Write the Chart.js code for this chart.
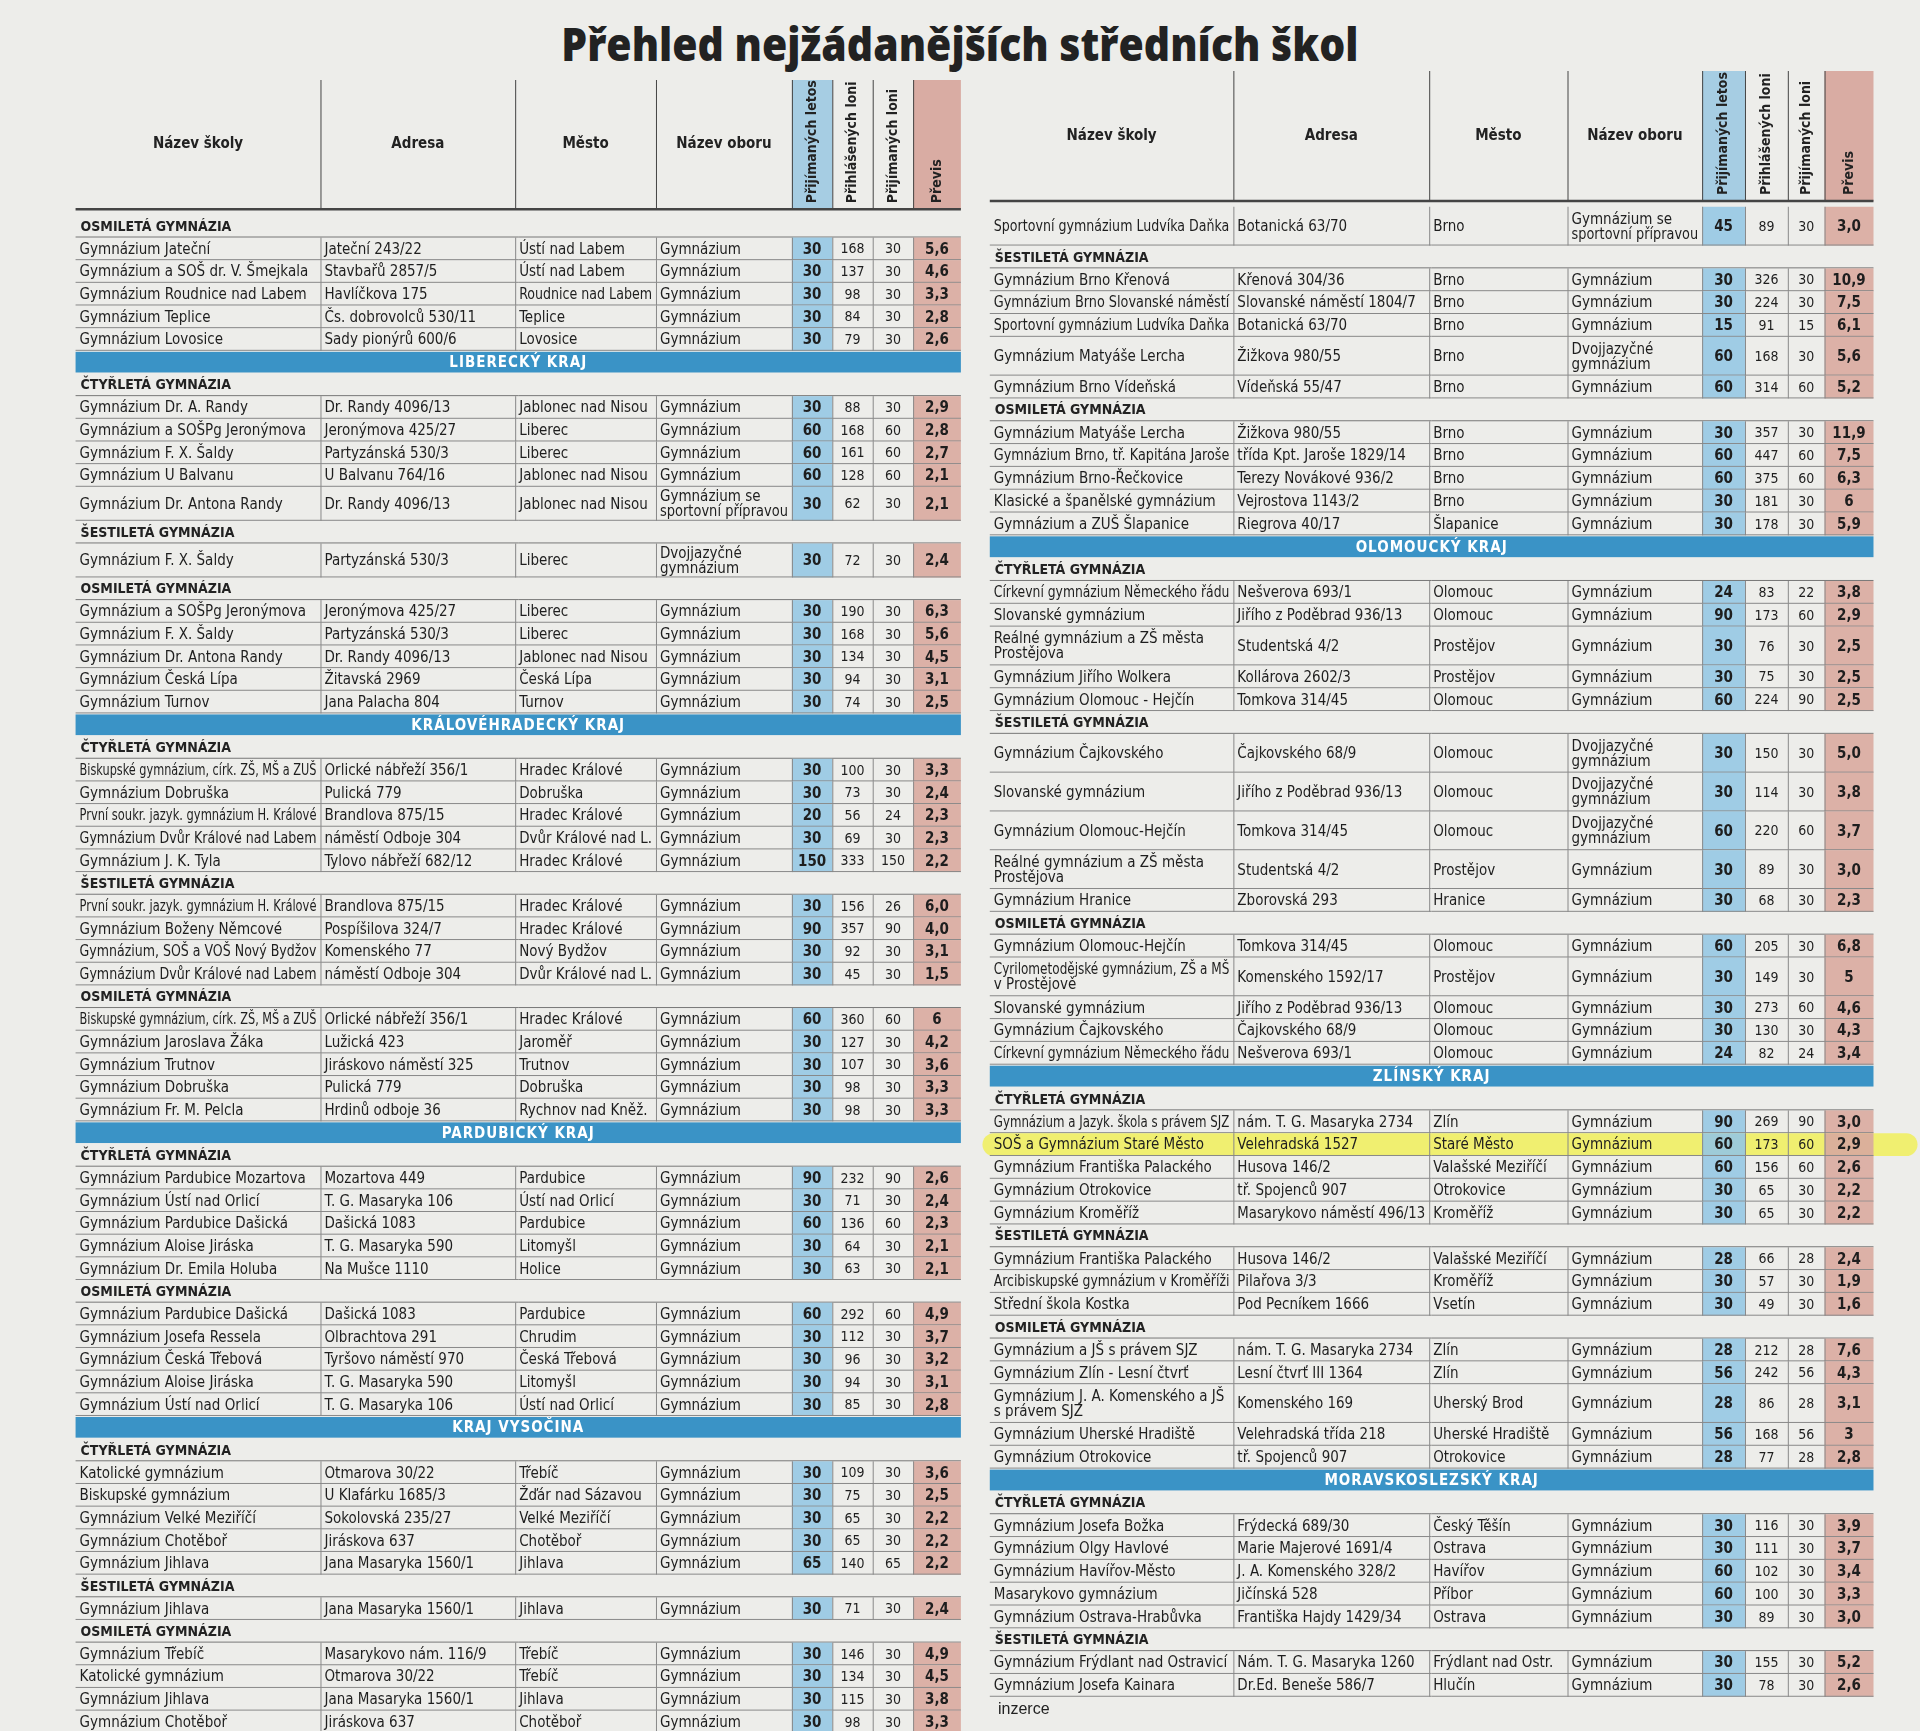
<!DOCTYPE html>
<html><head><meta charset="utf-8">
<script src="https://cdn.jsdelivr.net/npm/chart.js@4"></script>
<style>
body{margin:0;width:1920px;height:1731px;background:#ededea;overflow:hidden;position:relative;font-family:"Liberation Sans Narrow","DejaVu Sans Condensed",sans-serif}
#title{position:absolute;top:12px;left:0;width:1920px;text-align:center;font:800 46px "Open Sans",sans-serif;color:#222;white-space:nowrap}
#title span{display:inline-block;transform-origin:center;transform:scaleX(0.89)}
canvas{position:absolute}
#inz{position:absolute;left:998px;top:1700px;font:16px "Liberation Sans Narrow",sans-serif;color:#222}
</style></head><body>
<div id="title"><span>Přehled nejžádanějších středních škol</span></div>
<canvas id="cl" width="900" height="1651" style="left:67px;top:80px"></canvas>
<canvas id="cr" width="940" height="1660" style="left:980px;top:71px"></canvas>
<div id="inz">inzerce</div>
<script>
// ---- column headers ----
const columnHeaders = ["Název školy","Adresa","Město","Název oboru","Přijímaných letos","Přihlášených loni","Přijímaných loni","Převis"];

// ---- LEFT table: type k = region banner, h = section, d = school ----
const leftType = "hddddd"+"kh"+"ddddd"+"hd"+"hddddd"+"kh"+"ddddd"+"hdddd"+"hddddd"+"kh"+"ddddd"+"hddddd"+"kh"+"ddddd"+"hd"+"hddddd";
const leftNames = ["OSMILETÁ GYMNÁZIA","Gymnázium Jateční","Gymnázium a SOŠ dr. V. Šmejkala","Gymnázium Roudnice nad Labem","Gymnázium Teplice","Gymnázium Lovosice",
"LIBERECKÝ KRAJ","ČTYŘLETÁ GYMNÁZIA","Gymnázium Dr. A. Randy","Gymnázium a SOŠPg Jeronýmova","Gymnázium F. X. Šaldy","Gymnázium U Balvanu","Gymnázium Dr. Antona Randy",
"ŠESTILETÁ GYMNÁZIA","Gymnázium F. X. Šaldy",
"OSMILETÁ GYMNÁZIA","Gymnázium a SOŠPg Jeronýmova","Gymnázium F. X. Šaldy","Gymnázium Dr. Antona Randy","Gymnázium Česká Lípa","Gymnázium Turnov",
"KRÁLOVÉHRADECKÝ KRAJ","ČTYŘLETÁ GYMNÁZIA","Biskupské gymnázium, círk. ZŠ, MŠ a ZUŠ","Gymnázium Dobruška","První soukr. jazyk. gymnázium H. Králové","Gymnázium Dvůr Králové nad Labem","Gymnázium J. K. Tyla",
"ŠESTILETÁ GYMNÁZIA","První soukr. jazyk. gymnázium H. Králové","Gymnázium Boženy Němcové","Gymnázium, SOŠ a VOŠ Nový Bydžov","Gymnázium Dvůr Králové nad Labem",
"OSMILETÁ GYMNÁZIA","Biskupské gymnázium, círk. ZŠ, MŠ a ZUŠ","Gymnázium Jaroslava Žáka","Gymnázium Trutnov","Gymnázium Dobruška","Gymnázium Fr. M. Pelcla",
"PARDUBICKÝ KRAJ","ČTYŘLETÁ GYMNÁZIA","Gymnázium Pardubice Mozartova","Gymnázium Ústí nad Orlicí","Gymnázium Pardubice Dašická","Gymnázium Aloise Jiráska","Gymnázium Dr. Emila Holuba",
"OSMILETÁ GYMNÁZIA","Gymnázium Pardubice Dašická","Gymnázium Josefa Ressela","Gymnázium Česká Třebová","Gymnázium Aloise Jiráska","Gymnázium Ústí nad Orlicí",
"KRAJ VYSOČINA","ČTYŘLETÁ GYMNÁZIA","Katolické gymnázium","Biskupské gymnázium","Gymnázium Velké Meziříčí","Gymnázium Chotěboř","Gymnázium Jihlava",
"ŠESTILETÁ GYMNÁZIA","Gymnázium Jihlava",
"OSMILETÁ GYMNÁZIA","Gymnázium Třebíč","Katolické gymnázium","Gymnázium Jihlava","Gymnázium Chotěboř","Gymnázium Žďár nad Sázavou"];
const leftAddress = ["","Jateční 243/22","Stavbařů 2857/5","Havlíčkova 175","Čs. dobrovolců 530/11","Sady pionýrů 600/6",
"","","Dr. Randy 4096/13","Jeronýmova 425/27","Partyzánská 530/3","U Balvanu 764/16","Dr. Randy 4096/13",
"","Partyzánská 530/3",
"","Jeronýmova 425/27","Partyzánská 530/3","Dr. Randy 4096/13","Žitavská 2969","Jana Palacha 804",
"","","Orlické nábřeží 356/1","Pulická 779","Brandlova 875/15","náměstí Odboje 304","Tylovo nábřeží 682/12",
"","Brandlova 875/15","Pospíšilova 324/7","Komenského 77","náměstí Odboje 304",
"","Orlické nábřeží 356/1","Lužická 423","Jiráskovo náměstí 325","Pulická 779","Hrdinů odboje 36",
"","","Mozartova 449","T. G. Masaryka 106","Dašická 1083","T. G. Masaryka 590","Na Mušce 1110",
"","Dašická 1083","Olbrachtova 291","Tyršovo náměstí 970","T. G. Masaryka 590","T. G. Masaryka 106",
"","","Otmarova 30/22","U Klafárku 1685/3","Sokolovská 235/27","Jiráskova 637","Jana Masaryka 1560/1",
"","Jana Masaryka 1560/1",
"","Masarykovo nám. 116/9","Otmarova 30/22","Jana Masaryka 1560/1","Jiráskova 637","Neumannova 1693/2"];
const leftCity = ["","Ústí nad Labem","Ústí nad Labem","Roudnice nad Labem","Teplice","Lovosice",
"","","Jablonec nad Nisou","Liberec","Liberec","Jablonec nad Nisou","Jablonec nad Nisou",
"","Liberec",
"","Liberec","Liberec","Jablonec nad Nisou","Česká Lípa","Turnov",
"","","Hradec Králové","Dobruška","Hradec Králové","Dvůr Králové nad L.","Hradec Králové",
"","Hradec Králové","Hradec Králové","Nový Bydžov","Dvůr Králové nad L.",
"","Hradec Králové","Jaroměř","Trutnov","Dobruška","Rychnov nad Kněž.",
"","","Pardubice","Ústí nad Orlicí","Pardubice","Litomyšl","Holice",
"","Pardubice","Chrudim","Česká Třebová","Litomyšl","Ústí nad Orlicí",
"","","Třebíč","Žďár nad Sázavou","Velké Meziříčí","Chotěboř","Jihlava",
"","Jihlava",
"","Třebíč","Třebíč","Jihlava","Chotěboř","Žďár nad Sázavou"];
const leftField = ["","Gymnázium","Gymnázium","Gymnázium","Gymnázium","Gymnázium",
"","","Gymnázium","Gymnázium","Gymnázium","Gymnázium","Gymnázium se\nsportovní přípravou",
"","Dvojjazyčné\ngymnázium",
"","Gymnázium","Gymnázium","Gymnázium","Gymnázium","Gymnázium",
"","","Gymnázium","Gymnázium","Gymnázium","Gymnázium","Gymnázium",
"","Gymnázium","Gymnázium","Gymnázium","Gymnázium",
"","Gymnázium","Gymnázium","Gymnázium","Gymnázium","Gymnázium",
"","","Gymnázium","Gymnázium","Gymnázium","Gymnázium","Gymnázium",
"","Gymnázium","Gymnázium","Gymnázium","Gymnázium","Gymnázium",
"","","Gymnázium","Gymnázium","Gymnázium","Gymnázium","Gymnázium",
"","Gymnázium",
"","Gymnázium","Gymnázium","Gymnázium","Gymnázium","Gymnázium"];
const leftAdmitted = [null,30,30,30,30,30, null,null,30,60,60,60,30, null,30, null,30,30,30,30,30,
null,null,30,30,20,30,150, null,30,90,30,30, null,60,30,30,30,30,
null,null,90,30,60,30,30, null,60,30,30,30,30,
null,null,30,30,30,30,65, null,30, null,30,30,30,30,30];
const leftApplied = [null,168,137,98,84,79, null,null,88,168,161,128,62, null,72, null,190,168,134,94,74,
null,null,100,73,56,69,333, null,156,357,92,45, null,360,127,107,98,98,
null,null,232,71,136,64,63, null,292,112,96,94,85,
null,null,109,75,65,65,140, null,71, null,146,134,115,98,92];
const leftAdmittedLast = [null,30,30,30,30,30, null,null,30,60,60,60,30, null,30, null,30,30,30,30,30,
null,null,30,30,24,30,150, null,26,90,30,30, null,60,30,30,30,30,
null,null,90,30,60,30,30, null,60,30,30,30,30,
null,null,30,30,30,30,65, null,30, null,30,30,30,30,30];
const leftRatio = ["","5,6","4,6","3,3","2,8","2,6", "","","2,9","2,8","2,7","2,1","2,1", "","2,4", "","6,3","5,6","4,5","3,1","2,5",
"","","3,3","2,4","2,3","2,3","2,2", "","6,0","4,0","3,1","1,5", "","6","4,2","3,6","3,3","3,3",
"","","2,6","2,4","2,3","2,1","2,1", "","4,9","3,7","3,2","3,1","2,8",
"","","3,6","2,5","2,2","2,2","2,2", "","2,4", "","4,9","4,5","3,8","3,3","3,1"];

// ---- RIGHT table ----
const rightType = "d"+"hddddd"+"hddddd"+"kh"+"ddddd"+"hddddd"+"hddddd"+"kh"+"ddddd"+"hddd"+"hddddd"+"kh"+"ddddd"+"hdd";
const rightNames = ["Sportovní gymnázium Ludvíka Daňka",
"ŠESTILETÁ GYMNÁZIA","Gymnázium Brno Křenová","Gymnázium Brno Slovanské náměstí","Sportovní gymnázium Ludvíka Daňka","Gymnázium Matyáše Lercha","Gymnázium Brno Vídeňská",
"OSMILETÁ GYMNÁZIA","Gymnázium Matyáše Lercha","Gymnázium Brno, tř. Kapitána Jaroše","Gymnázium Brno-Řečkovice","Klasické a španělské gymnázium","Gymnázium a ZUŠ Šlapanice",
"OLOMOUCKÝ KRAJ","ČTYŘLETÁ GYMNÁZIA","Církevní gymnázium Německého řádu","Slovanské gymnázium","Reálné gymnázium a ZŠ města\nProstějova","Gymnázium Jiřího Wolkera","Gymnázium Olomouc - Hejčín",
"ŠESTILETÁ GYMNÁZIA","Gymnázium Čajkovského","Slovanské gymnázium","Gymnázium Olomouc-Hejčín","Reálné gymnázium a ZŠ města\nProstějova","Gymnázium Hranice",
"OSMILETÁ GYMNÁZIA","Gymnázium Olomouc-Hejčín","Cyrilometodějské gymnázium, ZŠ a MŠ\nv Prostějově","Slovanské gymnázium","Gymnázium Čajkovského","Církevní gymnázium Německého řádu",
"ZLÍNSKÝ KRAJ","ČTYŘLETÁ GYMNÁZIA","Gymnázium a Jazyk. škola s právem SJZ","SOŠ a Gymnázium Staré Město","Gymnázium Františka Palackého","Gymnázium Otrokovice","Gymnázium Kroměříž",
"ŠESTILETÁ GYMNÁZIA","Gymnázium Františka Palackého","Arcibiskupské gymnázium v Kroměříži","Střední škola Kostka",
"OSMILETÁ GYMNÁZIA","Gymnázium a JŠ s právem SJZ","Gymnázium Zlín - Lesní čtvrť","Gymnázium J. A. Komenského a JŠ\ns právem SJZ","Gymnázium Uherské Hradiště","Gymnázium Otrokovice",
"MORAVSKOSLEZSKÝ KRAJ","ČTYŘLETÁ GYMNÁZIA","Gymnázium Josefa Božka","Gymnázium Olgy Havlové","Gymnázium Havířov-Město","Masarykovo gymnázium","Gymnázium Ostrava-Hrabůvka",
"ŠESTILETÁ GYMNÁZIA","Gymnázium Frýdlant nad Ostravicí","Gymnázium Josefa Kainara"];
const rightAddress = ["Botanická 63/70",
"","Křenová 304/36","Slovanské náměstí 1804/7","Botanická 63/70","Žižkova 980/55","Vídeňská 55/47",
"","Žižkova 980/55","třída Kpt. Jaroše 1829/14","Terezy Novákové 936/2","Vejrostova 1143/2","Riegrova 40/17",
"","","Nešverova 693/1","Jiřího z Poděbrad 936/13","Studentská 4/2","Kollárova 2602/3","Tomkova 314/45",
"","Čajkovského 68/9","Jiřího z Poděbrad 936/13","Tomkova 314/45","Studentská 4/2","Zborovská 293",
"","Tomkova 314/45","Komenského 1592/17","Jiřího z Poděbrad 936/13","Čajkovského 68/9","Nešverova 693/1",
"","","nám. T. G. Masaryka 2734","Velehradská 1527","Husova 146/2","tř. Spojenců 907","Masarykovo náměstí 496/13",
"","Husova 146/2","Pilařova 3/3","Pod Pecníkem 1666",
"","nám. T. G. Masaryka 2734","Lesní čtvrť III 1364","Komenského 169","Velehradská třída 218","tř. Spojenců 907",
"","","Frýdecká 689/30","Marie Majerové 1691/4","J. A. Komenského 328/2","Jičínská 528","Františka Hajdy 1429/34",
"","Nám. T. G. Masaryka 1260","Dr.Ed. Beneše 586/7"];
const rightCity = ["Brno",
"","Brno","Brno","Brno","Brno","Brno",
"","Brno","Brno","Brno","Brno","Šlapanice",
"","","Olomouc","Olomouc","Prostějov","Prostějov","Olomouc",
"","Olomouc","Olomouc","Olomouc","Prostějov","Hranice",
"","Olomouc","Prostějov","Olomouc","Olomouc","Olomouc",
"","","Zlín","Staré Město","Valašské Meziříčí","Otrokovice","Kroměříž",
"","Valašské Meziříčí","Kroměříž","Vsetín",
"","Zlín","Zlín","Uherský Brod","Uherské Hradiště","Otrokovice",
"","","Český Těšín","Ostrava","Havířov","Příbor","Ostrava",
"","Frýdlant nad Ostr.","Hlučín"];
const rightField = ["Gymnázium se\nsportovní přípravou",
"","Gymnázium","Gymnázium","Gymnázium","Dvojjazyčné\ngymnázium","Gymnázium",
"","Gymnázium","Gymnázium","Gymnázium","Gymnázium","Gymnázium",
"","","Gymnázium","Gymnázium","Gymnázium","Gymnázium","Gymnázium",
"","Dvojjazyčné\ngymnázium","Dvojjazyčné\ngymnázium","Dvojjazyčné\ngymnázium","Gymnázium","Gymnázium",
"","Gymnázium","Gymnázium","Gymnázium","Gymnázium","Gymnázium",
"","","Gymnázium","Gymnázium","Gymnázium","Gymnázium","Gymnázium",
"","Gymnázium","Gymnázium","Gymnázium",
"","Gymnázium","Gymnázium","Gymnázium","Gymnázium","Gymnázium",
"","","Gymnázium","Gymnázium","Gymnázium","Gymnázium","Gymnázium",
"","Gymnázium","Gymnázium"];
const rightAdmitted = [45, null,30,30,15,60,60, null,30,60,60,30,30,
null,null,24,90,30,30,60, null,30,30,60,30,30, null,60,30,30,30,24,
null,null,90,60,60,30,30, null,28,30,30, null,28,56,28,56,28,
null,null,30,30,60,60,30, null,30,30];
const rightApplied = [89, null,326,224,91,168,314, null,357,447,375,181,178,
null,null,83,173,76,75,224, null,150,114,220,89,68, null,205,149,273,130,82,
null,null,269,173,156,65,65, null,66,57,49, null,212,242,86,168,77,
null,null,116,111,102,100,89, null,155,78];
const rightAdmittedLast = [30, null,30,30,15,30,60, null,30,60,60,30,30,
null,null,22,60,30,30,90, null,30,30,60,30,30, null,30,30,60,30,24,
null,null,90,60,60,30,30, null,28,30,30, null,28,56,28,56,28,
null,null,30,30,30,30,30, null,30,30];
const rightRatio = ["3,0", "","10,9","7,5","6,1","5,6","5,2", "","11,9","7,5","6,3","6","5,9",
"","","3,8","2,9","2,5","2,5","2,5", "","5,0","3,8","3,7","3,0","2,3", "","6,8","5","4,6","4,3","3,4",
"","","3,0","2,9","2,6","2,2","2,2", "","2,4","1,9","1,6", "","7,6","4,3","3,1","3","2,8",
"","","3,9","3,7","3,4","3,3","3,0", "","5,2","2,6"];
const rightHighlight = "SOŠ a Gymnázium Staré Město";

const FONT = '"Liberation Sans Narrow","DejaVu Sans Condensed",sans-serif';

function makeTable(canvasId, t, cfg){
  const n = t.names.length;
  const heights = [], tops = [];
  let acc = 0;
  for(let i=0;i<n;i++){
    const lines = Math.max(t.names[i].split("\n").length, t.field[i].split("\n").length);
    const h = lines>1 ? cfg.dbl : 1;
    tops.push(acc); heights.push(h); acc += h;
  }
  const edges = cfg.edges;
  const plugin = {
    id:'table',
    afterDraw(chart){
      const ctx = chart.ctx, xs = chart.scales.x, ys = chart.scales.y;
      const X = v=>xs.getPixelForValue(v), Y = v=>ys.getPixelForValue(v);
      const x0 = X(edges[0]), x1 = X(edges[edges.length-1]);
      ctx.save();
      const hT = Y(-cfg.hdr), hB = Y(-0.25);
      ctx.fillStyle = '#a6cde3'; ctx.fillRect(X(edges[4]), hT, X(edges[5])-X(edges[4]), hB-hT);
      ctx.fillStyle = '#d9aca3'; ctx.fillRect(X(edges[7]), hT, X(edges[8])-X(edges[7]), hB-hT);
      ctx.strokeStyle = '#444'; ctx.lineWidth = 1;
      for(let c=1;c<8;c++){ ctx.beginPath(); ctx.moveTo(X(edges[c])+.5,hT); ctx.lineTo(X(edges[c])+.5,hB); ctx.stroke(); }
      ctx.lineWidth = 2.5; ctx.beginPath(); ctx.moveTo(x0,hB); ctx.lineTo(x1,hB); ctx.stroke();
      ctx.fillStyle = '#222'; ctx.font = 'bold 15px '+FONT; ctx.textAlign='center'; ctx.textBaseline='middle';
      const hm = (hT+hB)/2;
      for(let c=0;c<4;c++) ctx.fillText(columnHeaders[c], (X(edges[c])+X(edges[c+1]))/2, hm);
      ctx.font = 'bold 14px '+FONT;
      for(let c=4;c<8;c++){
        ctx.save(); ctx.translate((X(edges[c])+X(edges[c+1]))/2, hB-6); ctx.rotate(-Math.PI/2);
        ctx.textAlign='left'; ctx.fillText(columnHeaders[c],0,0); ctx.restore();
      }
      for(let i=0;i<n;i++){
        const top = Y(tops[i]), bot = Y(tops[i]+heights[i]), mid = (top+bot)/2;
        const ty = t.type[i];
        if(ty==='k'){
          ctx.fillStyle = '#3a93c6'; ctx.fillRect(x0, top+1, x1-x0, bot-top-2);
          ctx.fillStyle = '#fff'; ctx.font = 'bold 15px '+FONT; ctx.textAlign='center';
          if(ctx.letterSpacing!==undefined) ctx.letterSpacing='1px';
          ctx.fillText(t.names[i], (x0+x1)/2, mid+1);
          if(ctx.letterSpacing!==undefined) ctx.letterSpacing='0px';
          continue;
        }
        if(ty==='h'){
          ctx.fillStyle = '#222'; ctx.font = 'bold 14px '+FONT; ctx.textAlign='left';
          ctx.fillText(t.names[i], x0+5, mid+1);
          ctx.strokeStyle='#777'; ctx.lineWidth=1; ctx.beginPath(); ctx.moveTo(x0,bot-.5); ctx.lineTo(x1,bot-.5); ctx.stroke();
          continue;
        }
        if(t.highlight && t.names[i]===t.highlight){
          ctx.fillStyle = 'rgba(240,238,90,0.85)';
          const hx0 = X(cfg.hl[0]), hx1 = X(cfg.hl[1]), r=(bot-top)/2;
          ctx.beginPath(); ctx.moveTo(hx0+r,top); ctx.lineTo(hx1-r,top); ctx.arc(hx1-r,mid,r,-Math.PI/2,Math.PI/2);
          ctx.lineTo(hx0+r,bot); ctx.arc(hx0+r,mid,r,Math.PI/2,Math.PI*1.5); ctx.fill();
        }
        ctx.fillStyle = 'rgba(150,200,228,0.9)'; ctx.fillRect(X(edges[4]), top, X(edges[5])-X(edges[4]), bot-top);
        ctx.fillStyle = 'rgba(217,170,160,0.9)'; ctx.fillRect(X(edges[7]), top, X(edges[8])-X(edges[7]), bot-top);
        ctx.strokeStyle='#888'; ctx.lineWidth=1;
        ctx.beginPath(); ctx.moveTo(x0,bot-.5); ctx.lineTo(x1,bot-.5);
        for(let c=1;c<8;c++){ ctx.moveTo(X(edges[c])+.5,top); ctx.lineTo(X(edges[c])+.5,bot); }
        ctx.stroke();
        ctx.fillStyle='#1e1e1e'; ctx.font = '15px '+FONT; ctx.textAlign='left';
        const txt = [t.names[i], t.address[i], t.city[i], t.field[i]];
        for(let c=0;c<4;c++){
          const ls = txt[c].split("\n"), w = X(edges[c+1])-X(edges[c])-8;
          ls.forEach((s,k)=>ctx.fillText(s, X(edges[c])+4, mid + (k-(ls.length-1)/2)*15 + 1, w));
        }
        ctx.textAlign='center';
        const nums = [t.admitted[i], t.applied[i], t.last[i], t.ratio[i]];
        for(let c=0;c<4;c++){
          ctx.font = (c===0||c===3 ? 'bold 15px ':'14px ')+FONT;
          ctx.fillText(String(nums[c]), (X(edges[c+4])+X(edges[c+5]))/2, mid+1);
        }
      }
      ctx.restore();
    }
  };
  new Chart(document.getElementById(canvasId), {
    type:'bar',
    data:{labels:[], datasets:[]},
    options:{
      responsive:false, animation:false, devicePixelRatio:1,
      layout:{padding:0},
      plugins:{legend:{display:false}, tooltip:{enabled:false}},
      scales:{
        x:{type:'linear', display:false, offset:false, grace:0, min:cfg.xmin, max:cfg.xmax},
        y:{type:'linear', display:false, offset:false, reverse:true, min:-cfg.hdr, max:cfg.ymax}
      }
    },
    plugins:[plugin]
  });
}

makeTable('cl', {type:leftType, names:leftNames, address:leftAddress, city:leftCity, field:leftField,
  admitted:leftAdmitted, applied:leftApplied, last:leftAdmittedLast, ratio:leftRatio},
  {dbl:1.5, hdr:5.95, ymax:66.9, xmin:-7, xmax:728, edges:[0,200,359,474,585,618,651,684,723]});
makeTable('cr', {type:rightType, names:rightNames, address:rightAddress, city:rightCity, field:rightField,
  admitted:rightAdmitted, applied:rightApplied, last:rightAdmittedLast, ratio:rightRatio, highlight:rightHighlight},
  {dbl:1.7, hdr:5.95, ymax:66.8, xmin:-8, xmax:760, edges:[0,199,359,472,582,617,652,682,722], hl:[-6,758]});
</script>
</body></html>
